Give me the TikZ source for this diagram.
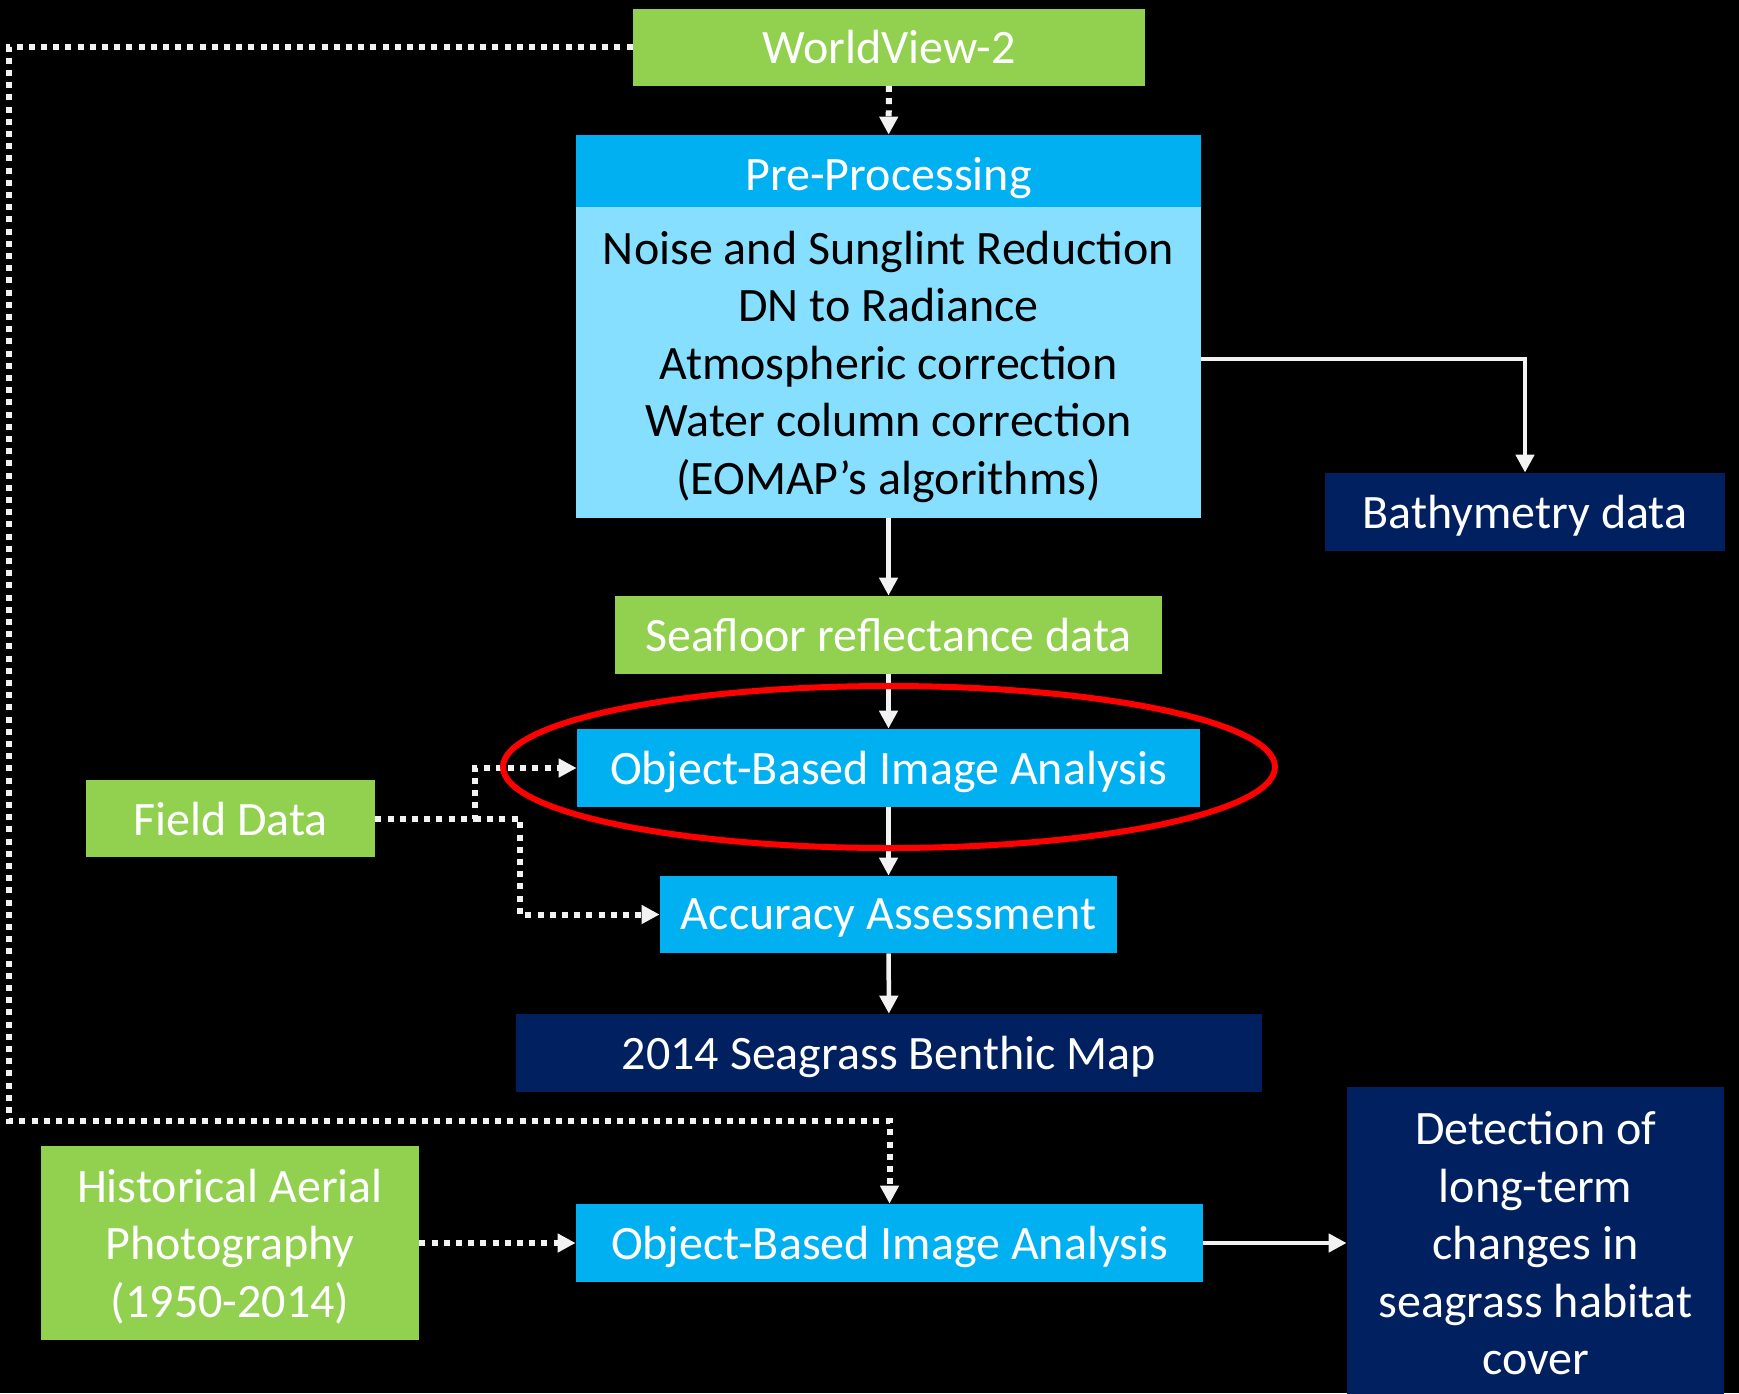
\documentclass[tikz,border=0pt]{standalone}
\usepackage{fontspec}
\setmainfont{Carlito}
\usetikzlibrary{arrows.meta,shapes.geometric}
\definecolor{cgreen}{HTML}{92D050}
\definecolor{cblue}{HTML}{00B0F0}
\definecolor{clight}{HTML}{87DFFF}
\definecolor{cnavy}{HTML}{002060}
\definecolor{cline}{HTML}{F2F2F2}
\definecolor{cred}{HTML}{FF0000}
\begin{document}
\begin{tikzpicture}[x=0.5pt,y=-0.5pt,
  box/.style={rectangle,inner sep=0pt,align=center,text=white,text depth=0pt,
    font=\fontsize{24pt}{28.75pt}\selectfont},
  gbox/.style={box,fill=cgreen},
  bbox/.style={box,fill=cblue},
  nbox/.style={box,fill=cnavy},
  lbox/.style={box,fill=clight,text=black},
  solidarrow/.style={draw=cline,line width=2.25pt,-{Triangle[length=9pt,width=9pt]}},
  dotarrow/.style={draw=cline,line width=3pt,dash pattern=on 3pt off 3.1pt,-{Triangle[length=9pt,width=9pt]}},
]
\fill[black] (0,0) rectangle (1739,1393);
\useasboundingbox (0,0) rectangle (1739,1393);

\node[gbox,minimum width=256pt,minimum height=38.5pt] (wv) at (889,47) {WorldView-2};
\node[bbox,minimum width=312.5pt,minimum height=36pt,text height=19pt] (pre) at (888.5,171) {Pre-Processing};
\node[lbox,minimum width=312.5pt,minimum height=155.5pt] (preb) at (888.5,362.5)
  {Noise and Sunglint Reduction\\DN to Radiance\\Atmospheric correction\\Water column correction\\(EOMAP’s algorithms)};
\node[gbox,minimum width=273.5pt,minimum height=39pt] (sea) at (888.5,635) {Seafloor reflectance data};
\node[bbox,minimum width=311.5pt,minimum height=39pt] (obia) at (888.5,768) {Object-Based Image Analysis};
\node[bbox,minimum width=228.5pt,minimum height=38.5pt] (acc) at (888.5,914.5) {Accuracy Assessment};
\node[nbox,minimum width=373pt,minimum height=39pt] (map) at (889,1053) {2014 Seagrass Benthic Map};
\node[bbox,minimum width=313.5pt,minimum height=39pt] (obib) at (889.5,1243) {Object-Based Image Analysis};
\node[gbox,minimum width=144.5pt,minimum height=38.5pt] (field) at (230.5,818.5) {Field Data};
\node[gbox,minimum width=189pt,minimum height=97pt] (hist) at (230,1243) {Historical Aerial\\Photography\\(1950-2014)};
\node[nbox,minimum width=200pt,minimum height=39pt] (bathy) at (1525,512) {Bathymetry data};
\node[nbox,minimum width=188.5pt,minimum height=156pt] (det) at (1535.5,1243)
  {Detection of\\long-term\\changes in\\seagrass habitat\\cover};

\coordinate (lt) at (9,1121);
\coordinate (f1) at (475,818.5);
\coordinate (f2) at (520,818.5);

\draw[dotarrow] (wv) -- (pre);
\draw[dotarrow] (wv.west) -| (lt) -| (obib.north);
\draw[solidarrow] (preb) -- (sea);
\draw[solidarrow] ([yshift=1.75pt]preb.east) -| (bathy.north);
\draw[solidarrow] (sea) -- (obia);
\draw[solidarrow] (obia) -- (acc);
\draw[solidarrow] (acc) -- (map);
\draw[dotarrow] (field.east) -- (f1) |- (obia.west);
\draw[dotarrow] (f1) -- (f2) |- (acc.west);
\draw[dotarrow] (hist) -- (obib);
\draw[solidarrow] (obib) -- (det);

\draw[cred,line width=3pt] (889,767) ellipse [x radius=193pt,y radius=40.5pt];
\end{tikzpicture}
\end{document}
